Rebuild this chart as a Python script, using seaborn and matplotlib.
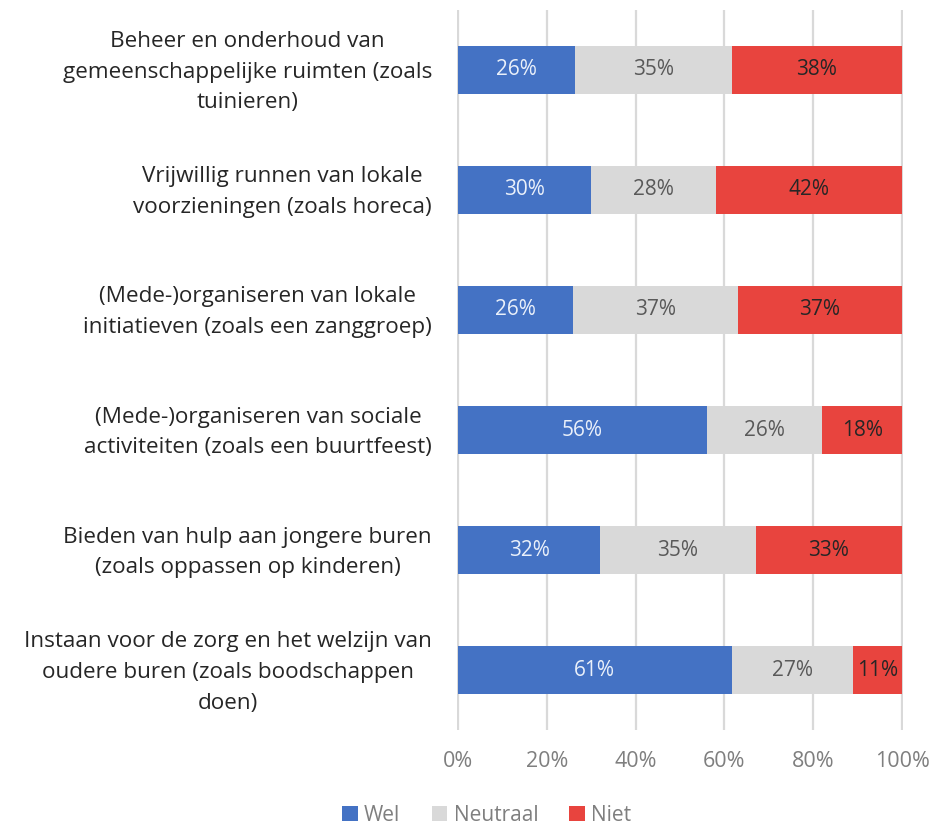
import numpy as np
import matplotlib
matplotlib.use("Agg")
import matplotlib.pyplot as plt
import matplotlib.transforms as mtransforms
from matplotlib.patches import Patch
from matplotlib.ticker import PercentFormatter
import seaborn as sns

# data
categories = [
    "Beheer en onderhoud van\ngemeenschappelijke ruimten (zoals\ntuinieren)",
    "Vrijwillig runnen van lokale\nvoorzieningen (zoals horeca)",
    "(Mede-)organiseren van lokale\ninitiatieven (zoals een zanggroep)",
    "(Mede-)organiseren van sociale\nactiviteiten (zoals een buurtfeest)",
    "Bieden van hulp aan jongere buren\n(zoals oppassen op kinderen)",
    "Instaan voor de zorg en het welzijn van\noudere buren (zoals boodschappen\ndoen)",
]
wel = [26, 30, 26, 56, 32, 61]
neutraal = [35, 28, 37, 26, 35, 27]
niet = [38, 42, 37, 18, 33, 11]

series_names = ["Wel", "Neutraal", "Niet"]
colors = ["#4472C4", "#D9D9D9", "#E8443E"]
label_colors = ["#EAF0FA", "#595959", "#262626"]

sns.set_theme(style="white")
plt.rcParams["font.family"] = ["Open Sans", "DejaVu Sans"]

# 100% gestapeld: normaliseren per rij
vals = np.array([wel, neutraal, niet], dtype=float)
frac = vals / vals.sum(axis=0)
cum = np.cumsum(frac, axis=0)

fig = plt.figure(figsize=(9.49, 8.25), dpi=100)
ax = fig.add_axes([0.4816, 0.115, 0.4700, 0.873])

# grootste eerst tekenen, kleinere erover
for i in [2, 1, 0]:
    sns.barplot(x=cum[i], y=categories, color=colors[i], saturation=1,
                width=0.4, orient="h", linewidth=0, ax=ax, zorder=3)

# labels in het midden van elk segment
for i in range(3):
    start = cum[i] - frac[i]
    for row in range(len(categories)):
        ax.text(start[row] + frac[i][row] / 2, row, f"{int(vals[i][row])}%",
                ha="center", va="center", fontsize=15,
                color=label_colors[i], zorder=4)

ax.set_xlim(-0.002, 1.002)
ax.set_ylim(5.5, -0.5)
ax.set_xticks([0, 0.2, 0.4, 0.6, 0.8, 1.0])
ax.xaxis.set_major_formatter(PercentFormatter(1, decimals=0))
ax.grid(axis="x", color="#D9D9D9", linewidth=1.6, zorder=0)
ax.grid(axis="y", visible=False)
ax.set_axisbelow(True)
for s in ax.spines.values():
    s.set_visible(False)
ax.set_xlabel("")
ax.set_ylabel("")
ax.tick_params(axis="x", length=0, pad=15, labelsize=15.5, labelcolor="#7F7F7F")
ax.tick_params(axis="y", length=0, pad=18, labelsize=16.2, labelcolor="#262626")
shift_up = mtransforms.ScaledTranslation(0, 5 / 100, fig.dpi_scale_trans)
for lab in ax.get_yticklabels():
    lab.set_multialignment("center")
    lab.set_linespacing(1.6)
    lab.set_transform(lab.get_transform() + shift_up)

handles = [Patch(facecolor=c, edgecolor="none") for c in colors]
fig.legend(handles, series_names, loc="lower center", bbox_to_anchor=(0.513, -0.024),
           ncol=3, frameon=False, fontsize=15, labelcolor="#7F7F7F",
           handlelength=0.75, handleheight=0.75, handletextpad=0.3, columnspacing=1.5)

fig.savefig("out.png", dpi=100)
